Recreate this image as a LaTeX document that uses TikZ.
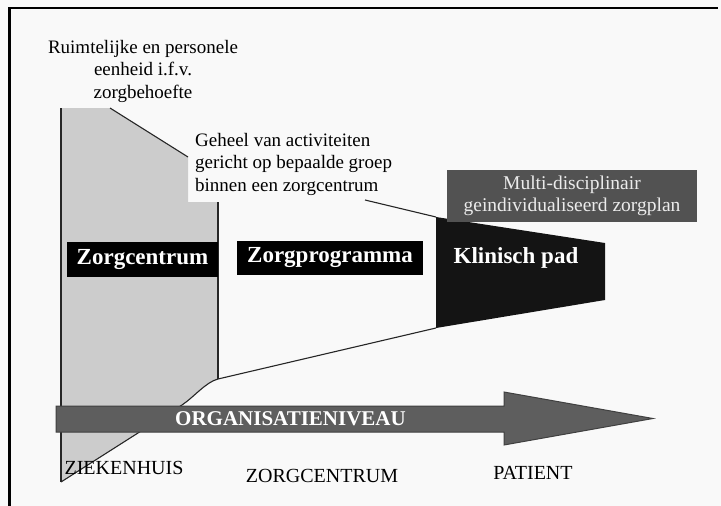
\documentclass[tikz,border=0pt]{standalone}
\usepackage{fontspec}
\setmainfont{Liberation Serif}
\definecolor{paper}{gray}{0.975}
\definecolor{columngray}{gray}{0.8}
\definecolor{arrowgray}{gray}{0.37}
\definecolor{plangray}{gray}{0.32}
\definecolor{padblack}{gray}{0.08}
\begin{document}
\begin{tikzpicture}[x=1pt,y=-1pt,
    note/.style={inner sep=0pt,font=\fontsize{19}{22.5}\selectfont},
    level/.style={inner sep=0pt,font=\fontsize{20}{24}\selectfont},
    labelbox/.style={fill=black,text=white,inner sep=0pt,font=\bfseries\fontsize{23}{27}\selectfont},
    edge/.style={line width=1.1pt,black!85}]
      \useasboundingbox (0,0) rectangle (721,506);
      \fill[paper] (0,0) rectangle (721,506);
      \draw[line width=2.5pt] (9.5,506) -- (9.5,8) -- (718,8);
      \coordinate (col nw) at (61,108);
      \coordinate (col n) at (110,108);
      \coordinate (col ne) at (188,157);
      \coordinate (col step) at (188,202);
      \coordinate (col e) at (218,202);
      \coordinate (col se) at (218,379);
      \coordinate (col bend) at (182,405);
      \coordinate (col sw) at (61,482);
      \coordinate (pad nw) at (436,217);
      \coordinate (pad ne) at (605,243);
      \coordinate (pad se) at (605,300);
      \coordinate (pad sw) at (436,328);
      \coordinate (text end) at (365,200);
      \fill[columngray] (col nw) -- (col n) -- (col ne) -- (col step) -- (col e) -- (col se)
        .. controls (206,382) and (194,397) .. (col bend) -- (col sw) -- cycle;
      \begin{scope}[edge]
        \draw (col nw) -- (col sw);
        \draw (col n) -- (col ne);
        \draw (col e) -- (col se);
        \draw (pad sw) -- (col se) .. controls (206,382) and (194,397) .. (col bend) -- (col sw);
        \draw (text end) -- (pad nw);
      \end{scope}
      \fill[padblack] (pad nw) -- (pad ne) -- (pad se) -- (pad sw) -- cycle;
      \draw[fill=arrowgray,draw=black!75,line width=1pt]
        (56,406) -- (504,406) -- (504,392) -- (653,418.5) -- (504,445) -- (504,432) -- (56,432) -- cycle;
      \draw
        (143,71) node[note,align=center] (ruimte) {Ruimtelijke en personele\\eenheid i.f.v.\\zorgbehoefte}
        (195,164) node[note,align=left,anchor=west] (geheel) {Geheel van activiteiten\\gericht op bepaalde groep\\binnen een zorgcentrum}
        (142.5,259.5) node[labelbox,minimum width=151pt,minimum height=35pt] (zorgcentrum) {Zorgcentrum}
        (330,258) node[labelbox,minimum width=186pt,minimum height=34pt] (zorgprogramma) {Zorgprogramma}
        (516,258) node[labelbox,fill=none] (klinisch) {Klinisch pad}
        (572,196) node[fill=plangray,text=white!92!black,minimum width=250pt,minimum height=52pt,inner sep=0pt,align=center,font=\fontsize{19.5}{22}\selectfont] (zorgplan) {Multi-disciplinair\\geindividualiseerd zorgplan}
        (290.5,419) node[text=white,inner sep=0pt,font=\bfseries\fontsize{21}{25}\selectfont] (niveau) {ORGANISATIENIVEAU}
        (124,468) node[level] (ziekenhuis) {ZIEKENHUIS}
        (322,476) node[level] (centrum) {ZORGCENTRUM}
        (533,473) node[level] (patient) {PATIENT};
    \end{tikzpicture}
\end{document}
